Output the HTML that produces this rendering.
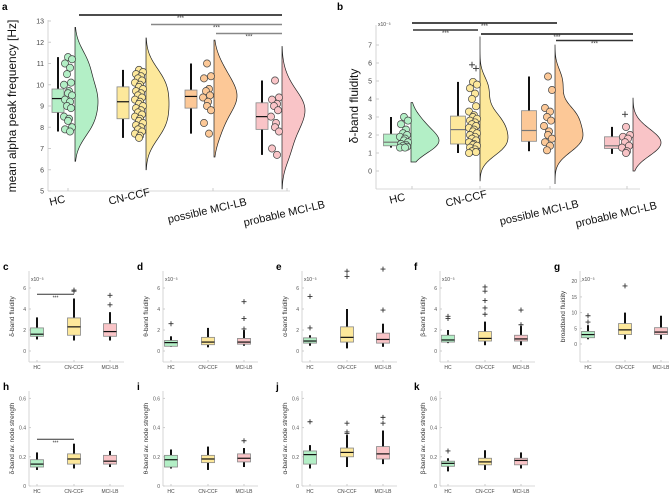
<!DOCTYPE html>
<html><head><meta charset="utf-8"><style>
html,body{margin:0;padding:0;background:#fff}
svg{display:block;font-family:"Liberation Sans",sans-serif}
</style></head><body>
<svg id="fig" width="669" height="495" viewBox="0 0 669 495" xmlns="http://www.w3.org/2000/svg"></svg>
<script>
// ---------- DATA ----------
const groupsBig = ["HC","CN-CCF","possible MCI-LB","probable MCI-LB"];
const groupsSmall = ["HC","CN-CCF","MCI-LB"];
const aBoxes = [[7.8,8.7,9.35,9.8,11.3],[7.5,8.4,9.2,9.9,10.7],[7.7,8.9,9.45,9.75,11.0],[6.7,7.9,8.5,9.15,10.2]];
const aDotsHC = [11.3,11.2,11.0,10.8,10.5,10.1,10.0,9.7,9.6,9.5,9.3,9.2,9.0,8.9,8.5,8.4,8.3,8.0,7.9,7.8];
const aDotsCN = [10.7,10.6,10.5,10.4,10.3,10.2,10.1,10.0,9.9,9.8,9.7,9.6,9.5,9.4,9.3,9.2,9.1,9.0,8.9,8.8,8.7,8.6,8.5,8.4,8.3,8.2,8.1,8.0,7.9,7.8,7.7,7.6,7.5];
const aDotsPos = [11.0,10.4,10.3,9.8,9.7,9.5,9.4,9.2,9.0,8.8,8.2,7.7];
const aDotsProb = [10.2,9.4,9.3,9.1,9.0,8.8,8.5,8.2,8.0,7.8,7.0,6.7];
const aViolinRange = [[6.4,12.7],[6.0,12.2],[6.6,12.1],[5.1,11.8]];
const aTicks = [5,6,7,8,9,10,11,12,13];
const bBoxes = [[1.3,1.4,1.6,2.05,3.0],[1.0,1.5,2.3,3.05,4.95],[1.1,1.65,2.25,3.35,5.25],[0.95,1.25,1.4,1.9,2.45]];
const bOutliers = [[],[5.9,5.7],[],[3.15]];
const bDotsHC = [3.0,2.8,2.6,2.3,2.1,2.0,1.9,1.8,1.7,1.6,1.5,1.45,1.4,1.35,1.3,1.3];
const bDotsCN = [4.95,4.8,4.6,4.3,4.0,3.6,3.3,3.1,3.0,2.9,2.8,2.7,2.6,2.5,2.4,2.3,2.2,2.1,2.0,1.9,1.8,1.7,1.6,1.5,1.45,1.4,1.3,1.2,1.1,1.05,1.0];
const bDotsPos = [5.25,4.5,3.5,3.3,3.0,2.8,2.5,2.2,2.0,1.8,1.6,1.4,1.15];
const bDotsProb = [2.45,2.0,1.9,1.8,1.6,1.4,1.3,1.1,1.0];
const bViolinRange = [[0.5,3.8],[-0.55,7.45],[-0.7,7.0],[0.0,4.05]];
const bTicks = [0,1,2,3,4,5,6,7];
// small panels: [min,q1,med,q3,max,outliers]
const cData = [[1.1,1.4,1.6,2.2,3.2,[]],[1.0,1.5,2.3,3.15,5.0,[5.8,5.7]],[1.0,1.4,1.85,2.6,3.7,[4.4,5.3]]];
const dData = [[0.4,0.45,0.8,1.0,1.4,[2.6]],[0.35,0.6,0.85,1.3,2.2,[]],[0.5,0.65,0.85,1.2,2.0,[2.1,3.1,4.7]]];
const eData = [[0.5,0.75,0.95,1.25,1.5,[2.2,5.2]],[0.25,0.85,1.3,2.3,4.0,[7.1,7.6]],[0.4,0.75,1.1,1.7,2.6,[3.9,7.8]]];
const fData = [[0.75,0.85,1.05,1.5,2.0,[3.1,3.3]],[0.55,0.95,1.2,1.85,2.8,[3.5,4.1,4.8,5.7,6.1]],[0.55,0.95,1.15,1.5,2.4,[2.5,3.9]]];
const gData = [[1.5,2,3,4,6,[7,9]],[1.5,3,4.5,6.5,10,[18.5]],[1.5,3,3.8,5.2,9,[]]];
const hData = [[0.11,0.13,0.15,0.18,0.23,[]],[0.12,0.15,0.185,0.22,0.29,[]],[0.13,0.15,0.17,0.21,0.24,[]]];
const iData = [[0.12,0.13,0.18,0.21,0.25,[]],[0.11,0.16,0.185,0.21,0.27,[]],[0.13,0.165,0.19,0.22,0.26,[0.31]]];
const jData = [[0.12,0.15,0.215,0.24,0.28,[0.44]],[0.13,0.2,0.23,0.26,0.35,[0.36,0.37,0.43]],[0.15,0.185,0.22,0.27,0.38,[0.43,0.47]]];
const kData = [[0.1,0.135,0.155,0.17,0.19,[0.24]],[0.11,0.145,0.165,0.19,0.245,[]],[0.12,0.145,0.175,0.19,0.23,[]]];
const fluidTicks = [0,2,4,6];
const broadTicks = [0,5,10,15,20];
const strengthTicks = [0,0.2,0.4,0.6];

const colors4 = ["#b3efc6","#fde89b","#fcc897","#f9c4c7"];
const colors3 = ["#b3efc6","#fde89b","#f9c4c7"];
const NS = "http://www.w3.org/2000/svg";
const svg = document.getElementById("fig");
function el(tag, attrs, parent, text){
  const e = document.createElementNS(NS, tag);
  for (const k in attrs) e.setAttribute(k, attrs[k]);
  if (text !== undefined) e.textContent = text;
  (parent||svg).appendChild(e);
  return e;
}
function grp(name){ const g = el("g",{});   return g; }
function txt(g,x,y,s,size,fill,anchor,extra){
  const t = el("text",Object.assign({x:x,y:y,"font-size":size,fill:fill,"text-anchor":anchor||"middle"},extra||{}),g,s);
  
  
  return t;
}
function kde(vals, lo, hi, bw){
  const pts=[]; const n=60;
  for(let i=0;i<=n;i++){ const v=lo+(hi-lo)*i/n; let d=0;
    vals.forEach(x=>{d+=Math.exp(-0.5*((v-x)/bw)**2);}); pts.push([v,d]); }
  const m=Math.max(...pts.map(p=>p[1])); return pts.map(p=>[p[0],p[1]/m]);
}
function box(g,cx,w,b,y,color,mc){
  el("line",{x1:cx,x2:cx,y1:y(b[0]),y2:y(b[4]),stroke:"#111","stroke-width":2},g);
  const r=el("rect",{x:cx-w/2,y:y(b[3]),width:w,height:y(b[1])-y(b[3]),fill:color,stroke:"#888","stroke-width":0.8},g);
   
  el("line",{x1:cx-w/2,x2:cx+w/2,y1:y(b[2]),y2:y(b[2]),stroke:mc||"#111","stroke-width":1.2},g);
}
function plus(g,x,yy,s){
  el("path",{d:`M${x-s} ${yy}H${x+s}M${x} ${yy-s}V${yy+s}`,stroke:"#333","stroke-width":0.9},g);
}

// ---------- BIG PANELS ----------
function bigPanel(cfg){
  const g = grp(cfg.name);
  const y = v => cfg.y0 - (v - cfg.v0)*cfg.k;
  el("line",{x1:cfg.ax,x2:cfg.ax,y1:cfg.top,y2:cfg.bottom,stroke:"#ccc","stroke-width":0.8},g);
  el("line",{x1:cfg.ax,x2:cfg.right,y1:cfg.bottom,y2:cfg.bottom,stroke:"#ccc","stroke-width":0.8},g);
  cfg.ticks.forEach(t=>{ el("line",{x1:cfg.ax,x2:cfg.ax+3,y1:y(t),y2:y(t),stroke:"#ccc"},g);
    txt(g,cfg.ax-4,y(t)+2.5,String(t),7,"#444","end"); });
  cfg.xt.forEach(x=>el("line",{x1:x,x2:x,y1:cfg.bottom,y2:cfg.bottom-3,stroke:"#ccc"},g));
  cfg.dots.forEach((d,i)=>{
    const gi = grp("group-"+groupsBig[i].toLowerCase().replace(/ /g,"-"));
    g.appendChild(gi);
    const vd = kde(d, cfg.vr[i][0], cfg.vr[i][1], cfg.bw);
    const vx = cfg.vx[i];
    let p = `M${vx} ${y(cfg.vr[i][0])}`;
    vd.forEach(q=>{ p += `L${vx+q[1]*cfg.vw} ${y(q[0])}`; });
    p += `L${vx} ${y(cfg.vr[i][1])}Z`;
    const v = el("path",{d:p,fill:cfg.colors[i],stroke:"#222","stroke-width":0.7},gi);
     
    box(gi,cfg.bx[i],cfg.bw2,cfg.boxes[i],y,cfg.colors[i],cfg.mc);
    if(cfg.out) cfg.out[i].forEach((o,j)=>plus(gi,vx-8+j*4,y(o),3));
    d.forEach((val,j)=>{
      const off = [0,4,-3,2,-1,3,-4,1][j%8];
      const c = el("circle",{cx:vx-cfg.dotOff+off,cy:y(val),r:3.6,fill:cfg.colors[i],stroke:"#444","stroke-width":0.7},gi);
       
    });
  });
  cfg.sig.forEach(s=>{
    el("line",{x1:s[0],x2:s[1],y1:s[2],y2:s[2],stroke:s[3],"stroke-width":1.4},g);
    txt(g,(s[0]+s[1])/2,s[2]+5,"***",6,"#333");
  });
  groupsBig.forEach((n,i)=>{
    const t = txt(g,cfg.lx[i],cfg.ly[i],n,11,"#111","middle",{transform:`rotate(-13 ${cfg.lx[i]} ${cfg.ly[i]})`});
    
  });
  const yl = txt(g,cfg.ylx,cfg.yly,cfg.ylabel,cfg.ylsize,"#111","middle",{transform:`rotate(-90 ${cfg.ylx} ${cfg.yly})`});
  
  txt(g,cfg.plx,10,cfg.panel,10,"#000","start",{"font-weight":"bold"});
  if(cfg.exp) txt(g,cfg.ax+2,cfg.top+1,"x10⁻³",5,"#444","start");
}
bigPanel({name:"panel-a",panel:"a",ax:48,top:20,bottom:191,right:290,y0:191,v0:5,k:21.25,ticks:aTicks,
  xt:[68,141,213,287],dots:[aDotsHC,aDotsCN,aDotsPos,aDotsProb],vr:aViolinRange,bw:0.65,vw:23,
  vx:[75,146,214,282],bx:[58,123,191,262],bw2:12,boxes:aBoxes,colors:colors4,dotOff:7,
  sig:[[79,282,15,"#111"],[151,282,24.5,"#888"],[216,282,33.5,"#888"]],
  lx:[58,130,208,285],ly:[204,200,214,217],ylabel:"mean alpha peak frequency [Hz]",ylx:16,yly:106,ylsize:12,plx:2});
bigPanel({name:"panel-b",panel:"b",ax:376,top:25,bottom:189,right:640,y0:171,v0:0,k:18,ticks:bTicks,
  xt:[412,480,550,627],dots:[bDotsHC,bDotsCN,bDotsPos,bDotsProb],vr:bViolinRange,bw:0.55,vw:28,
  vx:[411,480,555,633],bx:[391,458,529,612],bw2:15,boxes:bBoxes,out:bOutliers,colors:colors4,dotOff:7,mc:"#777",
  sig:[[412,557,23,"#111"],[413,478,30,"#333"],[481,633,34,"#111"],[556,633,40.5,"#333"]],
  lx:[398,467,540,617],ly:[202,202,216,218],ylabel:"δ-band fluidity",ylx:358,yly:106,ylsize:12,plx:337,exp:true});

// ---------- SMALL PANELS ----------
function smallPanel(cfg){
  const g = grp(cfg.name);
  const y = v => cfg.y0 - v*cfg.k;
  el("line",{x1:cfg.ax,x2:cfg.ax,y1:cfg.top,y2:cfg.bottom,stroke:"#ccc","stroke-width":0.8},g);
  el("line",{x1:cfg.ax,x2:cfg.ax+95,y1:cfg.bottom,y2:cfg.bottom,stroke:"#ccc","stroke-width":0.8},g);
  cfg.ticks.forEach(t=>{ el("line",{x1:cfg.ax,x2:cfg.ax+2,y1:y(t),y2:y(t),stroke:"#ccc"},g);
    txt(g,cfg.ax-3,y(t)+2,String(t),5,"#555","end"); });
  const xs=[cfg.ax+8,cfg.ax+45,cfg.ax+81];
  cfg.data.forEach((b,i)=>{
    const gi = grp("box-"+groupsSmall[i].toLowerCase()); g.appendChild(gi);
    box(gi,xs[i],13,b,y,colors3[i]);
    b[5].forEach(o=>plus(gi,xs[i],y(o),2.5));
    el("line",{x1:xs[i],x2:xs[i],y1:cfg.bottom,y2:cfg.bottom-2,stroke:"#ccc"},g);
    txt(g,xs[i],cfg.bottom+7,groupsSmall[i],5,"#444");
  });
  if(cfg.sig){ el("line",{x1:xs[0],x2:xs[1],y1:y(cfg.sig),y2:y(cfg.sig),stroke:"#333","stroke-width":1},g);
    txt(g,(xs[0]+xs[1])/2,y(cfg.sig)+5,"***",5,"#333"); }
  const lx=cfg.ax-15, ly=(cfg.top+cfg.bottom)/2;
  const yl=txt(g,lx,ly,cfg.ylabel,6.5,"#333","middle",{transform:`rotate(-90 ${lx} ${ly})`});
  
  txt(g,cfg.ax-26,cfg.top-1,cfg.panel,10,"#000","start",{"font-weight":"bold"});
  if(cfg.exp) txt(g,cfg.ax+2,cfg.top+10,"x10⁻³",5,"#444","start");
}
const row1=[29,163,302,440,580];
smallPanel({name:"panel-c",panel:"c",ax:row1[0],top:271,bottom:362,y0:351,k:10.5,ticks:fluidTicks,data:cData,sig:5.4,ylabel:"δ-band fluidity",exp:true});
smallPanel({name:"panel-d",panel:"d",ax:row1[1],top:271,bottom:362,y0:351,k:10.5,ticks:fluidTicks,data:dData,ylabel:"θ-band fluidity",exp:true});
smallPanel({name:"panel-e",panel:"e",ax:row1[2],top:271,bottom:362,y0:351,k:10.5,ticks:fluidTicks,data:eData,ylabel:"α-band fluidity",exp:true});
smallPanel({name:"panel-f",panel:"f",ax:row1[3],top:271,bottom:362,y0:351,k:10.5,ticks:fluidTicks,data:fData,ylabel:"β-band fluidity",exp:true});
smallPanel({name:"panel-g",panel:"g",ax:row1[4],top:271,bottom:362,y0:344,k:3.14,ticks:broadTicks,data:gData,ylabel:"broadband fluidity",exp:true});
smallPanel({name:"panel-h",panel:"h",ax:row1[0],top:391,bottom:486,y0:486,k:146,ticks:strengthTicks,data:hData,sig:0.32,ylabel:"δ-band av. node strength"});
smallPanel({name:"panel-i",panel:"i",ax:row1[1],top:391,bottom:486,y0:486,k:146,ticks:strengthTicks,data:iData,ylabel:"θ-band av. node strength"});
smallPanel({name:"panel-j",panel:"j",ax:row1[2],top:391,bottom:486,y0:486,k:146,ticks:strengthTicks,data:jData,ylabel:"α-band av. node strength"});
smallPanel({name:"panel-k",panel:"k",ax:row1[3],top:391,bottom:486,y0:486,k:146,ticks:strengthTicks,data:kData,ylabel:"β-band av. node strength"});
</script>
</body></html>
